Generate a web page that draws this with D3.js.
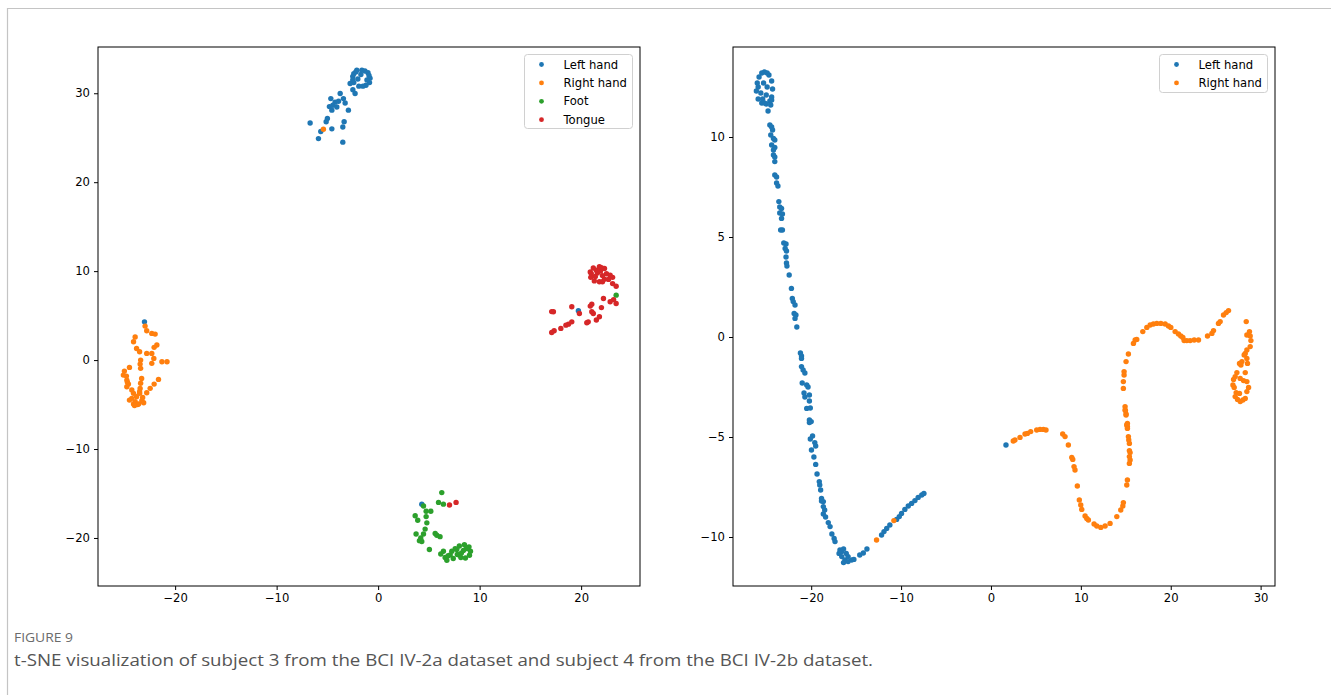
<!DOCTYPE html>
<html><head><meta charset="utf-8">
<script src="https://cdn.jsdelivr.net/npm/d3@7"></script>
<style>html,body{margin:0;padding:0;background:#fff;}svg{display:block;}</style>
</head><body>
<svg id="chart" width="1331" height="695"></svg>
<script>
// ---------- DATA ----------
const classesA = ["Left hand", "Right hand", "Foot", "Tongue"];
const classesB = ["Left hand", "Right hand"];
const xTicksA = [-20, -10, 0, 10, 20];
const yTicksA = [-20, -10, 0, 10, 20, 30];
const xTicksB = [-20, -10, 0, 10, 20, 30];
const yTicksB = [-10, -5, 0, 5, 10];
const captionLabel = "FIGURE 9";
const captionText = "t-SNE visualization of subject 3 from the BCI IV-2a dataset and subject 4 from the BCI IV-2b dataset.";

// Panel A (BCI IV-2a, subject 3)
const leftHandA = [
  [-0.8,31.7],[-1.0,32.3],[-1.6,32.6],[-2.2,32.4],[-2.5,31.9],[-2.4,31.2],[-1.9,30.8],[-1.2,30.9],[-0.85,31.2],
  [-1.3,32.5],[-2.4,32.2],[-2.5,31.5],[-1.5,30.8],[-2.0,31.6],[-1.7,32.1],[-1.1,31.5],[-0.9,32.0],[-2.1,32.6],
  [-2.76,31.1],[-2.49,30.4],[-2.27,29.97],[-3.74,29.97],[-4.66,29.4],[-4.24,29.0],[-4.46,28.65],[-4.07,28.46],
  [-4.56,28.1],[-3.42,29.4],[-2.93,28.1],[-5.0,27.16],[-5.12,26.8],[-4.56,26.0],[-6.7,26.66],[-5.65,25.7],
  [-5.88,24.9],[-3.35,26.8],[-3.48,26.2],[-3.48,24.5],[-3.25,28.9],[-4.8,28.5],[-3.9,29.1],
  [-23.02,4.3],[19.73,5.54],[4.3,-16.2]
];
const rightHandA = [
  [-22.96,3.82],[-22.8,3.3],[-22.3,3.0],[-21.97,2.92],[-23.94,2.6],[-24.1,2.06],[-23.8,1.3],[-23.5,0.93],
  [-23.4,0],[-23.45,-0.45],[-23.4,-0.93],[-22.8,0.75],[-22.3,0.75],[-22.07,1.43],[-21.8,1.69],[-22.1,0.19],
  [-22.3,-0.37],[-21.3,-0.19],[-20.8,-0.19],[-24.5,-0.82],[-25.0,-1.24],[-25.1,-1.69],[-24.76,-2.25],[-24.6,-2.7],
  [-24.76,-3.0],[-24.27,-3.37],[-24.1,-3.74],[-23.3,-2.06],[-23.4,-2.6],[-23.45,-3.2],[-23.5,-3.56],[-21.64,-2.17],
  [-22.07,-2.7],[-22.46,-3.18],[-22.8,-3.67],[-24.27,-4.3],[-23.94,-4.68],[-23.6,-4.94],[-23.28,-4.57],[-23.2,-4.2],
  [-23.8,-4.12],[-24.1,-4.94],[-23.5,-3.74],[-24.5,-4.5],[-24.8,-1.8],[-24.7,-2.5],[-23.7,-5.0],[-24.0,-5.1],[-23.1,-4.8],
  [-5.39,25.96]
];
const footA = [
  [6.27,-14.9],[5.95,-16.0],[6.43,-16.2],[4.47,-16.4],[3.65,-17.5],[4.73,-17.0],[5.19,-17.0],[4.73,-17.6],
  [4.8,-18.3],[4.63,-19.0],[3.74,-19.55],[4.47,-19.55],[4.07,-20.3],[4.3,-20.4],[5.05,-21.3],[5.62,-19.5],
  [5.78,-19.7],[6.1,-19.85],[6.43,-21.5],[6.17,-21.8],[6.6,-22.2],[6.77,-22.5],[7.1,-21.9],[7.26,-21.5],
  [7.59,-21.2],[7.9,-21.9],[3.9,-18.0],[4.2,-20.0],[6.9,-22.0],[7.4,-22.3],
  [9.1,-21.5],[8.95,-21.0],[8.5,-20.75],[8.0,-20.9],[7.75,-21.3],[7.8,-21.85],[8.15,-22.2],[8.6,-22.25],
  [9.0,-21.95],[8.4,-21.4],[8.7,-21.2],[8.2,-21.7],
  [23.45,7.3]
];
const tongueA = [
  [22.5,9.7],[22.3,10.3],[21.8,10.5],[21.2,10.35],[20.9,9.9],[20.95,9.3],[21.3,8.9],[21.8,8.8],[22.3,9.1],
  [21.6,9.8],[21.9,10.0],[21.4,9.4],[22.1,9.5],[21.0,9.7],[22.0,10.4],[21.5,10.1],
  [22.86,9.55],[23.1,9.3],[22.7,9.07],[22.1,8.8],[23.1,8.6],[23.45,8.3],[23.2,6.8],[22.86,6.55],[23.45,6.37],
  [22.2,6.93],[22.0,5.9],[21.05,6.29],[20.9,6.07],[21.05,5.43],[21.2,5.24],[21.8,4.87],[21.5,4.5],[20.7,4.3],
  [20.56,4.19],[19.83,5.24],[19.08,5.99],[19.08,4.3],[18.75,4.04],[18.5,3.93],[18.0,3.56],[17.34,3.3],
  [17.27,5.43],[17.1,5.45],[17.1,3.1],
  [7.03,-16.3],[7.68,-16.0]
];

// Panel B (BCI IV-2b, subject 4)
const leftHandB = [
  [-25.2,13.25],[-24.7,13.1],[-24.4,12.8],[-24.3,12.4],[-24.4,12.0],[-24.6,11.8],[-25.0,11.65],[-25.5,11.7],
  [-25.9,11.9],[-26.1,12.3],[-26.0,12.7],[-25.8,13.0],[-25.5,13.2],[-24.9,13.2],[-25.9,12.5],[-25.6,12.2],
  [-24.9,12.5],[-25.3,12.7],[-25.0,12.1],[-24.5,11.6],[-25.4,11.9],[-24.4,11.85],[-25.2,11.7],
  [-24.8,11.3],[-24.6,10.6],[-24.4,10.5],[-24.3,10.35],[-24.5,10.1],[-24.2,9.93],[-24.05,9.85],[-24.4,9.6],
  [-24.05,9.48],[-24.2,9.35],[-24.2,9.1],[-24.05,9.0],[-24.05,8.77],[-24.05,8.1],[-23.85,8.0],[-23.85,7.7],
  [-23.7,7.55],[-23.6,6.77],[-23.5,6.5],[-23.3,6.43],[-23.5,6.2],[-23.2,6.15],[-23.3,5.93],[-23.2,5.35],[-23.4,5.35],
  [-23.05,4.7],[-22.8,4.65],[-22.9,4.43],[-22.75,4.3],[-22.8,4.0],[-22.75,3.7],[-22.7,3.55],[-22.45,3.1],
  [-22.2,2.43],[-22.1,1.93],[-22.0,1.77],[-21.8,1.6],[-21.9,1.18],[-21.7,1.1],[-21.8,0.93],[-21.6,0.5],
  [-21.2,-0.8],[-21.08,-0.95],[-21.08,-1.07],[-21.08,-1.48],[-20.9,-1.65],[-20.7,-1.8],[-21.0,-2.3],[-20.5,-2.4],
  [-20.35,-2.5],[-20.8,-2.8],[-20.2,-2.9],[-20.7,-3.0],[-20.2,-3.2],[-20.5,-3.57],[-20.1,-3.55],[-20.2,-4.15],
  [-20.0,-4.23],[-20.2,-4.28],[-19.85,-4.95],[-20.1,-5.1],[-19.6,-5.28],[-19.5,-5.45],[-19.97,-5.65],[-19.7,-6.0],
  [-19.5,-6.37],[-19.35,-6.85],[-19.1,-7.23],[-19.05,-7.4],[-18.95,-7.65],[-18.85,-8.07],[-18.65,-8.23],[-18.85,-8.2],
  [-18.65,-8.48],[-18.5,-8.65],[-18.65,-8.85],[-18.4,-9.0],[-18.1,-9.28],[-17.9,-9.48],[-17.7,-9.85],[-17.45,-10.07],
  [-17.35,-10.23],[-16.8,-10.65],[-16.6,-10.73],[-16.4,-10.6],[-16.9,-10.82],[-16.6,-10.98],[-16.25,-11.15],
  [-15.9,-11.23],[-15.5,-11.15],[-15.9,-10.98],[-16.1,-10.82],[-16.4,-11.28],[-15.25,-11.12],[-14.6,-10.9],
  [-14.2,-10.8],[-13.8,-10.6],[-12.17,-9.9],[-11.9,-9.73],[-11.6,-9.57],[-11.25,-9.4],[-10.5,-9.12],[-10.2,-8.98],
  [-9.95,-8.82],[-9.58,-8.62],[-9.2,-8.45],[-8.83,-8.32],[-8.46,-8.18],[-8.1,-8.02],[-7.7,-7.9],[-7.46,-7.82],
  [1.67,-5.4]
];
const rightHandB = [
  [2.48,-5.2],[2.67,-5.15],[3.23,-5.02],[3.79,-4.85],[4.05,-4.82],[4.42,-4.73],[5.09,-4.65],[5.46,-4.62],
  [5.83,-4.62],[6.12,-4.65],[7.98,-4.85],[8.24,-4.98],[8.61,-5.4],[8.99,-6.02],[9.1,-6.12],[9.24,-6.48],
  [9.35,-6.65],[9.61,-7.45],[9.83,-8.15],[9.99,-8.4],[10.1,-8.62],[10.47,-8.95],[10.66,-9.07],[10.84,-9.15],
  [11.47,-9.35],[11.77,-9.45],[12.22,-9.52],[12.7,-9.45],[13.25,-9.32],[14.0,-8.98],[14.44,-8.65],[14.67,-8.45],
  [14.73,-8.28],[15.11,-7.4],[15.18,-7.15],[15.4,-6.32],[15.48,-6.15],[15.4,-5.98],[15.48,-5.78],[15.4,-5.68],
  [15.4,-5.32],[15.33,-5.15],[15.29,-4.98],[15.18,-4.48],[15.18,-4.32],[15.03,-3.85],[14.96,-3.68],
  [14.92,-3.48],[14.92,-3.65],[15.03,-3.9],[15.1,-4.4],[15.18,-4.57],
  [14.73,-2.57],[14.73,-2.23],[14.81,-1.9],[14.81,-1.73],[15.03,-1.23],[15.29,-0.85],[15.85,-0.32],[16.04,-0.15],
  [16.22,-0.12],[16.89,0.27],[17.34,0.48],[17.71,0.6],[18.07,0.65],[18.45,0.68],[18.9,0.68],[19.38,0.65],
  [19.75,0.55],[20.01,0.48],[20.49,0.27],[20.86,0.15],[21.12,0.05],[21.35,-0.02],[21.49,-0.18],[21.79,-0.18],
  [22.16,-0.18],[22.61,-0.15],[23.09,-0.15],[24.09,0.05],[24.58,0.18],[24.76,0.32],[25.31,0.68],[25.5,0.77],
  [25.87,1.1],[26.17,1.22],[26.43,1.32],
  [28.4,0.77],[28.76,0.27],[28.47,0.1],[28.84,0.05],[28.92,-0.18],[28.84,-0.48],[28.47,-0.65],[28.29,-0.82],
  [28.17,-0.9],[27.92,-1.23],[27.81,-1.4],[27.65,-1.32],[28.47,-1.07],[28.54,-1.32],[28.29,-1.78],[27.36,-1.78],
  [27.17,-1.98],[26.99,-2.12],[27.73,-2.07],[28.1,-2.18],[28.47,-2.23],[26.92,-2.4],[27.06,-2.52],[28.66,-2.52],
  [28.47,-2.73],[27.28,-2.78],[27.65,-2.82],[27.17,-2.98],[27.43,-3.12],[27.73,-3.23],[28.03,-3.15],[28.29,-3.07],
  [-12.73,-10.15],[-10.8,-9.18]
];

// ---------- STYLE ----------
const colors = ["#1f77b4", "#ff7f0e", "#2ca02c", "#d62728"];
const tickFont = "'DejaVu Sans', sans-serif";
const svg = d3.select("#chart");
svg.append("rect").attr("width", 1331).attr("height", 695).attr("fill", "#fff");

// outer figure frame
svg.append("path").attr("d", "M7.5,695 V8.5 H1331").attr("fill", "none").attr("stroke", "#c4c4c4").attr("stroke-width", 1.2);

function panel(opt) {
  const {x0, x1, y0, y1, xDom, yDom, xTicks, yTicks, series, labels, legend} = opt;
  const xs = d3.scaleLinear().domain(xDom).range([x0, x1]);
  const ys = d3.scaleLinear().domain(yDom).range([y1, y0]);
  const g = svg.append("g");

  series.forEach((pts, i) => {
    g.append("g").selectAll("circle").data(pts).join("circle")
      .attr("cx", d => xs(d[0])).attr("cy", d => ys(d[1]))
      .attr("r", 2.7).attr("fill", colors[i]);
  });

  const xAxis = g.append("g").attr("transform", `translate(0,${y1})`)
    .call(d3.axisBottom(xs).tickValues(xTicks).tickSize(4).tickPadding(4).tickFormat(d3.format("d")));
  const yAxis = g.append("g").attr("transform", `translate(${x0},0)`)
    .call(d3.axisLeft(ys).tickValues(yTicks).tickSize(4).tickPadding(4).tickFormat(d3.format("d")));
  [xAxis, yAxis].forEach(a => {
    a.select(".domain").remove();
    a.selectAll("text").attr("font-family", tickFont).attr("font-size", 11.6).attr("fill", "#000");
    a.selectAll("line").attr("stroke", "#000").attr("stroke-width", 1);
  });

  g.append("rect").attr("x", x0).attr("y", y0).attr("width", x1 - x0).attr("height", y1 - y0)
    .attr("fill", "none").attr("stroke", "#000").attr("stroke-width", 1);

  // legend
  const lg = g.append("g");
  lg.append("rect").attr("x", legend.x).attr("y", legend.y).attr("width", legend.w)
    .attr("height", legend.h).attr("rx", 3).attr("fill", "#fff").attr("fill-opacity", 0.8)
    .attr("stroke", "#d0d0d0").attr("stroke-width", 1);
  labels.forEach((lab, i) => {
    const cy = legend.y + 10 + i * 18.4;
    lg.append("circle").attr("cx", legend.x + 17).attr("cy", cy).attr("r", 2.4).attr("fill", colors[i]);
    lg.append("text").attr("x", legend.x + 39).attr("y", cy).attr("dy", "0.35em")
      .attr("font-family", tickFont).attr("font-size", 11.6).attr("fill", "#000").text(lab);
  });
}

panel({x0: 98, x1: 640, y0: 47, y1: 586, xDom: [-27.6, 25.8], yDom: [-25.4, 35.2],
  xTicks: xTicksA, yTicks: yTicksA, series: [leftHandA, rightHandA, footA, tongueA], labels: classesA,
  legend: {x: 524.5, y: 54.5, w: 108, h: 74}});
panel({x0: 733, x1: 1275, y0: 47, y1: 586, xDom: [-28.7, 31.6], yDom: [-12.45, 14.5],
  xTicks: xTicksB, yTicks: yTicksB, series: [leftHandB, rightHandB], labels: classesB,
  legend: {x: 1159.5, y: 54.5, w: 108, h: 38}});

// caption
svg.append("text").attr("x", 14).attr("y", 642).attr("font-family", "'Open Sans', sans-serif")
  .attr("font-size", 13).attr("fill", "#6b6b6b").attr("textLength", 59).attr("lengthAdjust", "spacingAndGlyphs")
  .text(captionLabel);
svg.append("text").attr("x", 14).attr("y", 666).attr("font-family", "'Open Sans', sans-serif")
  .attr("font-size", 17).attr("fill", "#555").attr("textLength", 859).attr("lengthAdjust", "spacingAndGlyphs")
  .text(captionText);
</script>
</body></html>
